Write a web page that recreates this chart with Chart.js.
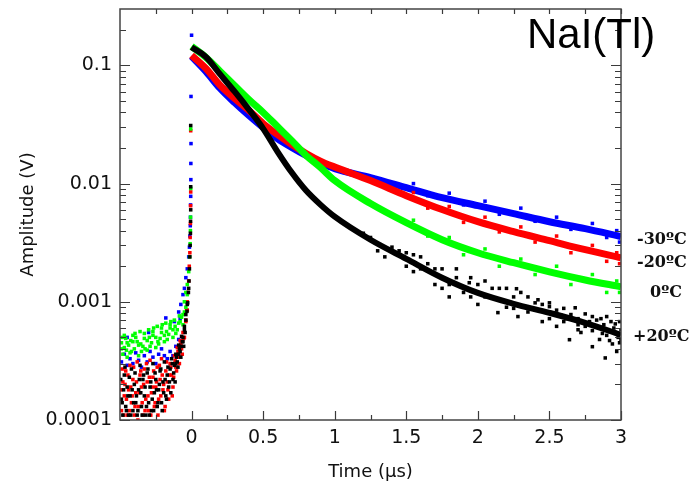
<!DOCTYPE html>
<html lang="en">
<head>
<meta charset="UTF-8">
<title>NaI(Tl) pulse shape vs temperature</title>
<script src="https://cdn.jsdelivr.net/npm/chart.js"></script>
<style>
  html, body { margin: 0; padding: 0; background: #fff; }
</style>
</head>
<body>
<canvas id="pulseChart" width="691" height="491"></canvas>
<script>
// tick labels
const xTickValues = [0, 0.5, 1, 1.5, 2, 2.5, 3];
const yTickValues = [0.0001, 0.001, 0.01, 0.1];
const yTickLabels = ['0.0001', '0.001', '0.01', '0.1'];
const seriesNames = ['-30ºC', '-20ºC', '0ºC', '+20ºC'];

// decay part on a common time grid (µs), amplitude in V
const decayTime = [0, 0.1, 0.2, 0.3, 0.4, 0.5, 0.6, 0.7, 0.8, 0.9, 1.0, 1.25, 1.5, 1.75, 2.0, 2.25, 2.5, 2.75, 3.0];
const ampM30 = [0.1192, 0.0889, 0.0638, 0.0485, 0.0377, 0.0298, 0.0240, 0.0202, 0.0173, 0.0151, 0.0134, 0.01125, 0.00925, 0.0076, 0.00651, 0.00557, 0.00476, 0.00416, 0.00356];
const ampM20 = [0.1216, 0.0944, 0.0677, 0.0525, 0.0416, 0.0322, 0.0260, 0.0214, 0.0180, 0.0155, 0.0138, 0.0106, 0.00791, 0.00603, 0.00476, 0.00392, 0.00329, 0.00276, 0.00236];
const amp0 = [0.1449, 0.1169, 0.0889, 0.0677, 0.0515, 0.0400, 0.0304, 0.0231, 0.0173, 0.0137, 0.0106, 0.00678, 0.00467, 0.00335, 0.0026, 0.00214, 0.00179, 0.00153, 0.00134];
const ampP20 = [0.1422, 0.118, 0.0839, 0.0602, 0.0424, 0.0292, 0.01866, 0.01239, 0.00873, 0.00664, 0.00525, 0.00335, 0.00231, 0.00160, 0.00119, 0.000962, 0.000807, 0.000664, 0.000525];

// baseline noise + rising edge, single samples [t, V]
const noiseM30 = [
  [0, 0.18], [-0.004, 0.0546], [-0.004, 0.0218], [-0.005, 0.0148], [-0.005, 0.0108], [-0.006, 0.0078],
  [-0.007, 0.0066], [-0.008, 0.0052], [-0.009, 0.0044], [-0.012, 0.0036], [-0.015, 0.0029], [-0.02, 0.0024],
  [-0.03, 0.0019], [-0.04, 0.0016], [-0.05, 0.0013], [-0.06, 0.00115], [-0.075, 0.00095], [-0.09, 0.00082],
  [-0.49, 0.00031], [-0.47, 0.00036], [-0.45, 0.00029], [-0.43, 0.00033], [-0.41, 0.00030], [-0.39, 0.00037],
  [-0.37, 0.00032], [-0.35, 0.00028], [-0.33, 0.00035], [-0.31, 0.00031], [-0.29, 0.00038], [-0.27, 0.00034],
  [-0.25, 0.00030], [-0.23, 0.00036], [-0.21, 0.00040], [-0.19, 0.00035], [-0.17, 0.00033], [-0.15, 0.00038],
  [-0.13, 0.00035], [-0.11, 0.00042], [-0.09, 0.00048], [-0.45, 0.00050], [-0.30, 0.00055], [-0.12, 0.00068],
  [-0.08, 0.00072], [-0.18, 0.00073]
];
const noiseM20 = [
  [-0.006, 0.028], [-0.006, 0.0085], [-0.007, 0.0065], [-0.008, 0.0046], [-0.01, 0.0035], [-0.012, 0.0026],
  [-0.016, 0.002], [-0.02, 0.0015], [-0.025, 0.0012], [-0.03, 0.001], [-0.035, 0.00085], [-0.04, 0.0007],
  [-0.49, 0.00012], [-0.48, 0.00021], [-0.47, 0.00016], [-0.46, 0.00026], [-0.45, 0.00011], [-0.44, 0.00018],
  [-0.43, 0.00029], [-0.42, 0.00014], [-0.41, 0.00022], [-0.40, 0.00011], [-0.39, 0.00017], [-0.38, 0.00031],
  [-0.37, 0.00013], [-0.36, 0.00024], [-0.35, 0.00019], [-0.34, 0.00011], [-0.33, 0.00027], [-0.32, 0.00015],
  [-0.31, 0.00021], [-0.30, 0.00012], [-0.29, 0.00032], [-0.28, 0.00017], [-0.27, 0.00023], [-0.26, 0.00013],
  [-0.25, 0.00019], [-0.24, 0.00028], [-0.23, 0.00015], [-0.22, 0.00022], [-0.21, 0.00033], [-0.20, 0.00018],
  [-0.19, 0.00012], [-0.18, 0.00026], [-0.17, 0.00021], [-0.16, 0.00015], [-0.15, 0.00030], [-0.14, 0.00024],
  [-0.13, 0.00019], [-0.12, 0.00035], [-0.11, 0.00028], [-0.10, 0.00041], [-0.09, 0.00034], [-0.08, 0.00047],
  [-0.07, 0.00040], [-0.06, 0.00055], [-0.05, 0.00050], [-0.04, 0.00068], [-0.03, 0.00085],
  [-0.495, 0.00018], [-0.485, 0.00027], [-0.475, 0.00011], [-0.465, 0.00020], [-0.455, 0.00015], [-0.445, 0.00024],
  [-0.435, 0.00012], [-0.425, 0.00019], [-0.415, 0.00016], [-0.405, 0.00028], [-0.395, 0.00013], [-0.385, 0.00021],
  [-0.375, 0.00010], [-0.365, 0.00017], [-0.355, 0.00026], [-0.345, 0.00014], [-0.335, 0.00020], [-0.325, 0.00012],
  [-0.315, 0.00030], [-0.305, 0.00016], [-0.295, 0.00023], [-0.285, 0.00011], [-0.275, 0.00019], [-0.265, 0.00026],
  [-0.255, 0.00014], [-0.245, 0.00021], [-0.235, 0.00011], [-0.225, 0.00029], [-0.215, 0.00016], [-0.205, 0.00024],
  [-0.195, 0.00020], [-0.185, 0.00013], [-0.175, 0.00031], [-0.165, 0.00018], [-0.155, 0.00024], [-0.145, 0.00028],
  [-0.135, 0.00016], [-0.125, 0.00023], [-0.115, 0.00032], [-0.105, 0.00026], [-0.095, 0.00038], [-0.085, 0.00030],
  [-0.075, 0.00044], [-0.065, 0.00036], [-0.055, 0.00049]
];
const noise0 = [
  [-0.006, 0.029], [-0.006, 0.0091], [-0.007, 0.0052], [-0.008, 0.0040], [-0.01, 0.0031], [-0.014, 0.0024],
  [-0.02, 0.0018], [-0.03, 0.0014], [-0.04, 0.0012], [-0.05, 0.001],
  [-0.49, 0.00045], [-0.48, 0.00036], [-0.47, 0.00041], [-0.46, 0.00049], [-0.45, 0.00034], [-0.44, 0.00043],
  [-0.42, 0.00038], [-0.41, 0.00052], [-0.40, 0.00040], [-0.38, 0.00046], [-0.37, 0.00035], [-0.36, 0.00056],
  [-0.34, 0.00042], [-0.33, 0.00049], [-0.31, 0.00039], [-0.30, 0.00058], [-0.28, 0.00045], [-0.27, 0.00052],
  [-0.25, 0.00041], [-0.24, 0.00062], [-0.22, 0.00049], [-0.21, 0.00055], [-0.19, 0.00046], [-0.18, 0.00066],
  [-0.16, 0.00053], [-0.15, 0.00060], [-0.13, 0.00050], [-0.12, 0.00070], [-0.10, 0.00058], [-0.09, 0.00066],
  [-0.07, 0.00074], [-0.06, 0.00064], [-0.05, 0.00082], [-0.04, 0.00090], [-0.03, 0.00115],
  [-0.485, 0.00050], [-0.455, 0.00039], [-0.425, 0.00047], [-0.395, 0.00054], [-0.355, 0.00044], [-0.325, 0.00040],
  [-0.295, 0.00050], [-0.265, 0.00060], [-0.235, 0.00046], [-0.205, 0.00064], [-0.175, 0.00056], [-0.145, 0.00068],
  [-0.115, 0.00062], [-0.085, 0.00076],
  [-0.49, 0.00040], [-0.47, 0.00052], [-0.45, 0.00045], [-0.43, 0.00037], [-0.41, 0.00046], [-0.39, 0.00050],
  [-0.37, 0.00043], [-0.35, 0.00038], [-0.33, 0.00054], [-0.31, 0.00047], [-0.29, 0.00042], [-0.27, 0.00056],
  [-0.25, 0.00050], [-0.23, 0.00044], [-0.21, 0.00060], [-0.19, 0.00052], [-0.17, 0.00048], [-0.15, 0.00064],
  [-0.13, 0.00058], [-0.11, 0.00054], [-0.08, 0.00068], [-0.06, 0.00078]
];
const noiseP20 = [
  [-0.006, 0.031], [-0.006, 0.0094], [-0.006, 0.0060], [-0.007, 0.0048], [-0.008, 0.0038], [-0.01, 0.003],
  [-0.012, 0.0024], [-0.015, 0.0019], [-0.018, 0.0015], [-0.022, 0.0012], [-0.027, 0.00098], [-0.032, 0.00083],
  [-0.04, 0.0007], [-0.05, 0.00058], [-0.06, 0.0005], [-0.075, 0.00042], [-0.09, 0.00036], [-0.11, 0.0003],
  [-0.49, 0.00015], [-0.48, 0.00011], [-0.47, 0.00024], [-0.46, 0.00013], [-0.45, 0.00019], [-0.44, 0.00011],
  [-0.43, 0.00016], [-0.42, 0.00027], [-0.41, 0.00012], [-0.40, 0.00020], [-0.39, 0.00014], [-0.38, 0.00011],
  [-0.37, 0.00018], [-0.36, 0.00029], [-0.35, 0.00013], [-0.34, 0.00022], [-0.33, 0.00016], [-0.32, 0.00011],
  [-0.31, 0.00025], [-0.30, 0.00014], [-0.29, 0.00019], [-0.28, 0.00012], [-0.27, 0.00030], [-0.26, 0.00017],
  [-0.25, 0.00022], [-0.24, 0.00013], [-0.23, 0.00018], [-0.22, 0.00026], [-0.21, 0.00014], [-0.20, 0.00021],
  [-0.19, 0.00031], [-0.18, 0.00016], [-0.17, 0.00024], [-0.16, 0.00019], [-0.15, 0.00027], [-0.14, 0.00033],
  [-0.13, 0.00022], [-0.12, 0.00029], [-0.11, 0.00036], [-0.10, 0.00031], [-0.09, 0.00043], [-0.08, 0.00038],
  [-0.07, 0.00051], [-0.06, 0.00046], [-0.05, 0.00062], [-0.04, 0.00078], [-0.03, 0.00095], [-0.02, 0.0013],
  [-0.495, 0.00022], [-0.485, 0.00014], [-0.475, 0.00018], [-0.465, 0.00028], [-0.455, 0.00012], [-0.445, 0.00016],
  [-0.435, 0.00023], [-0.425, 0.00011], [-0.415, 0.00018], [-0.405, 0.00014], [-0.395, 0.00025], [-0.385, 0.00016],
  [-0.375, 0.00012], [-0.365, 0.00022], [-0.355, 0.00017], [-0.345, 0.00011], [-0.335, 0.00024], [-0.325, 0.00019],
  [-0.315, 0.00013], [-0.305, 0.00027], [-0.295, 0.00011], [-0.285, 0.00021], [-0.275, 0.00015], [-0.265, 0.00012],
  [-0.255, 0.00025], [-0.245, 0.00018], [-0.235, 0.00014], [-0.225, 0.00020], [-0.215, 0.00027], [-0.205, 0.00012],
  [-0.195, 0.00017], [-0.185, 0.00022], [-0.175, 0.00015], [-0.165, 0.00028], [-0.155, 0.00021], [-0.145, 0.00017],
  [-0.135, 0.00030], [-0.125, 0.00025], [-0.115, 0.00021], [-0.105, 0.00034], [-0.095, 0.00028], [-0.085, 0.00040],
  [-0.075, 0.00034], [-0.065, 0.00046], [-0.055, 0.00042], [-0.045, 0.00055]
];

// scatter of the slow tail around each band, [t, V]
const tailM30 = [
  [1.55, 0.0100], [1.65, 0.0079], [1.8, 0.0083], [1.9, 0.0066], [2.05, 0.0071], [2.15, 0.0055], [2.3, 0.0062],
  [2.4, 0.0048], [2.55, 0.0052], [2.65, 0.0041], [2.8, 0.0046], [2.9, 0.0035], [2.97, 0.0040], [2.99, 0.0032]
];
const tailM20 = [
  [1.55, 0.0084], [1.65, 0.0062], [1.8, 0.0064], [1.9, 0.0047], [2.05, 0.0052], [2.15, 0.0039], [2.3, 0.0043],
  [2.4, 0.0032], [2.55, 0.0036], [2.65, 0.0026], [2.8, 0.0030], [2.9, 0.0022], [2.97, 0.0026], [2.99, 0.0021]
];
const tail0 = [
  [1.55, 0.0049], [1.65, 0.0036], [1.8, 0.0035], [1.9, 0.0025], [2.05, 0.0028], [2.15, 0.0020], [2.3, 0.0023],
  [2.4, 0.0017], [2.55, 0.0020], [2.65, 0.0014], [2.8, 0.0017], [2.9, 0.0012], [2.97, 0.0015], [2.99, 0.0012]
];
const tailP20 = [
  [1.2, 0.0038], [1.3, 0.0027], [1.45, 0.0027], [1.55, 0.0018], [1.6, 0.0024], [1.7, 0.0014], [1.8, 0.0011],
  [1.85, 0.0019], [1.94, 0.00145], [2.0, 0.00095], [2.05, 0.0015], [2.14, 0.00081], [2.2, 0.0013], [2.27, 0.00129],
  [2.28, 0.00075], [2.35, 0.0011], [2.42, 0.00104], [2.45, 0.00068], [2.5, 0.00098], [2.55, 0.00062], [2.6, 0.00088],
  [2.64, 0.000478], [2.68, 0.00089], [2.72, 0.00055], [2.75, 0.00079], [2.8, 0.000417], [2.82, 0.00062],
  [2.86, 0.00072], [2.89, 0.000335], [2.9, 0.00075], [2.94, 0.00044], [2.96, 0.00065], [2.98, 0.00050],
  [3.0, 0.00058], [2.97, 0.00038], [2.92, 0.00056], [2.85, 0.00048], [2.78, 0.00068], [2.7, 0.00058], [2.62, 0.00072],
  [1.25, 0.0035], [1.35, 0.0024], [1.4, 0.0029], [1.5, 0.0020], [1.5, 0.0026], [1.65, 0.0021], [1.75, 0.0013],
  [1.75, 0.0019], [1.9, 0.0012], [1.95, 0.0016], [2.1, 0.0011], [2.15, 0.0013], [2.25, 0.00088], [2.3, 0.0012],
  [2.4, 0.00085], [2.45, 0.00095], [2.55, 0.00085], [2.6, 0.00068], [2.7, 0.00072], [2.75, 0.00062], [2.8, 0.00075],
  [2.85, 0.00060], [2.9, 0.00052], [2.95, 0.00060], [2.99, 0.00045], [2.99, 0.00068],
  [1.55, 0.0025], [1.6, 0.0019], [1.7, 0.0019], [1.8, 0.0014], [1.85, 0.0016], [1.95, 0.0011], [2.0, 0.0014],
  [2.05, 0.0011], [2.1, 0.0013], [2.2, 0.0009], [2.25, 0.0011], [2.35, 0.00082], [2.4, 0.00098], [2.5, 0.00072],
  [2.5, 0.00091], [2.58, 0.00077], [2.65, 0.00078], [2.7, 0.00064], [2.8, 0.00057], [2.83, 0.00070], [2.88, 0.00064],
  [2.92, 0.00047], [2.96, 0.00055], [3.0, 0.00048], [2.93, 0.00068], [2.87, 0.00054]
];

const colors = ['#0000ff', '#ff0000', '#00ff00', '#000000'];
const decayAmps = [ampM30, ampM20, amp0, ampP20];
const noiseSets = [noiseM30.concat(tailM30), noiseM20.concat(tailM20), noise0.concat(tail0), noiseP20.concat(tailP20)];

function curve(amps) {
  return decayTime.map((t, i) => ({ x: t, y: amps[i] }));
}
function dots(pairs) {
  return pairs.map(p => ({ x: p[0], y: p[1] }));
}

// draw order: black on top, then green, red, blue
const drawOrder = [3, 2, 1, 0];
const datasets = [];
drawOrder.forEach(k => {
  datasets.push({
    label: seriesNames[k],
    data: curve(decayAmps[k]),
    showLine: true,
    borderColor: colors[k],
    borderWidth: k === 3 ? 6 : 7,
    pointRadius: 0,
    cubicInterpolationMode: 'monotone',
    order: drawOrder.indexOf(k)
  });
  datasets.push({
    label: seriesNames[k] + ' samples',
    data: dots(noiseSets[k]),
    showLine: false,
    pointStyle: 'rect',
    pointRadius: 2.5,
    pointBorderWidth: 0,
    backgroundColor: colors[k],
    order: drawOrder.indexOf(k)
  });
});

// frame, inward ticks, end labels and the crystal name
const framePlugin = {
  id: 'framePlugin',
  afterDatasetsDraw(chart) {
    const { ctx, chartArea: a, scales } = chart;
    const xs = scales.x, ys = scales.y;
    ctx.save();
    ctx.strokeStyle = '#3a3a3a';
    ctx.lineWidth = 1.2;
    // y ticks, both sides
    for (let e = -4; e <= -1; e++) {
      for (let m = 1; m <= 9; m++) {
        const v = m * Math.pow(10, e);
        if (v > ys.max) break;
        const py = Math.round(ys.getPixelForValue(v)) + 0.5;
        const len = m === 1 ? 10 : 6;
        ctx.beginPath();
        ctx.moveTo(a.left, py); ctx.lineTo(a.left + len, py);
        ctx.moveTo(a.right, py); ctx.lineTo(a.right - len, py);
        ctx.stroke();
      }
    }
    // x ticks, bottom and top
    for (let i = -1; i <= 12; i++) {
      const v = i * 0.25;
      const px = Math.round(xs.getPixelForValue(v)) + 0.5;
      const major = i % 2 === 0;
      ctx.beginPath();
      ctx.moveTo(px, a.bottom); ctx.lineTo(px, a.bottom - (major ? 9 : 5));
      ctx.moveTo(px, a.top); ctx.lineTo(px, a.top + 5);
      ctx.stroke();
    }
    // box
    ctx.lineWidth = 1.5;
    ctx.strokeStyle = '#444';
    ctx.strokeRect(a.left, a.top, a.right - a.left, a.bottom - a.top);

    // temperature labels next to the curve ends
    const labelAmp = [0.00335, 0.00215, 0.0012, 0.000505];
    const labelX = [637, 637, 650, 633];
    ctx.fillStyle = '#111';
    ctx.font = 'bold 16px "DejaVu Serif"';
    ctx.textBaseline = 'middle';
    ctx.textAlign = 'left';
    seriesNames.forEach((n, i) => {
      ctx.fillText(n, labelX[i], ys.getPixelForValue(labelAmp[i]));
    });

    ctx.fillStyle = '#000';
    ctx.font = '42px "Liberation Sans"';
    ctx.textBaseline = 'alphabetic';
    ctx.fillText('NaI(Tl)', 527, 48);
    ctx.restore();
  }
};

const tickFont = { family: '"DejaVu Sans"', size: 19 };
const titleFont = { family: '"DejaVu Sans"', size: 18 };
new Chart(document.getElementById('pulseChart'), {
  type: 'scatter',
  data: { datasets: datasets },
  options: {
    responsive: false,
    animation: false,
    devicePixelRatio: 1,
    layout: { padding: { top: 9, right: 70, left: 0, bottom: 0 } },
    plugins: { legend: { display: false }, tooltip: { enabled: false } },
    scales: {
      x: {
        type: 'linear',
        min: -0.5,
        max: 3,
        afterFit: s => { s.height = 71; s.paddingLeft = 0; s.paddingRight = 0; },
        afterBuildTicks: s => { s.ticks = xTickValues.map(v => ({ value: v })); },
        grid: { display: false, drawTicks: false },
        border: { display: false },
        ticks: { color: '#111', font: tickFont, padding: 7, maxRotation: 0, autoSkip: false,
          callback: v => String(v) },
        title: { display: true, text: 'Time (µs)', color: '#111', font: titleFont, padding: { top: 0, bottom: 8 } }
      },
      y: {
        type: 'logarithmic',
        min: 0.0001,
        max: 0.3,
        afterFit: s => { s.width = 120; s.paddingTop = 0; s.paddingBottom = 0; },
        afterBuildTicks: s => { s.ticks = yTickValues.map(v => ({ value: v })); },
        grid: { display: false, drawTicks: false },
        border: { display: false },
        ticks: { color: '#111', font: tickFont, padding: 8, autoSkip: false,
          callback: v => yTickLabels[yTickValues.indexOf(v)] },
        title: { display: true, text: 'Amplitude (V)', color: '#111', font: titleFont, padding: { top: 18, bottom: 0 } }
      }
    }
  },
  plugins: [framePlugin]
});
</script>
</body>
</html>
